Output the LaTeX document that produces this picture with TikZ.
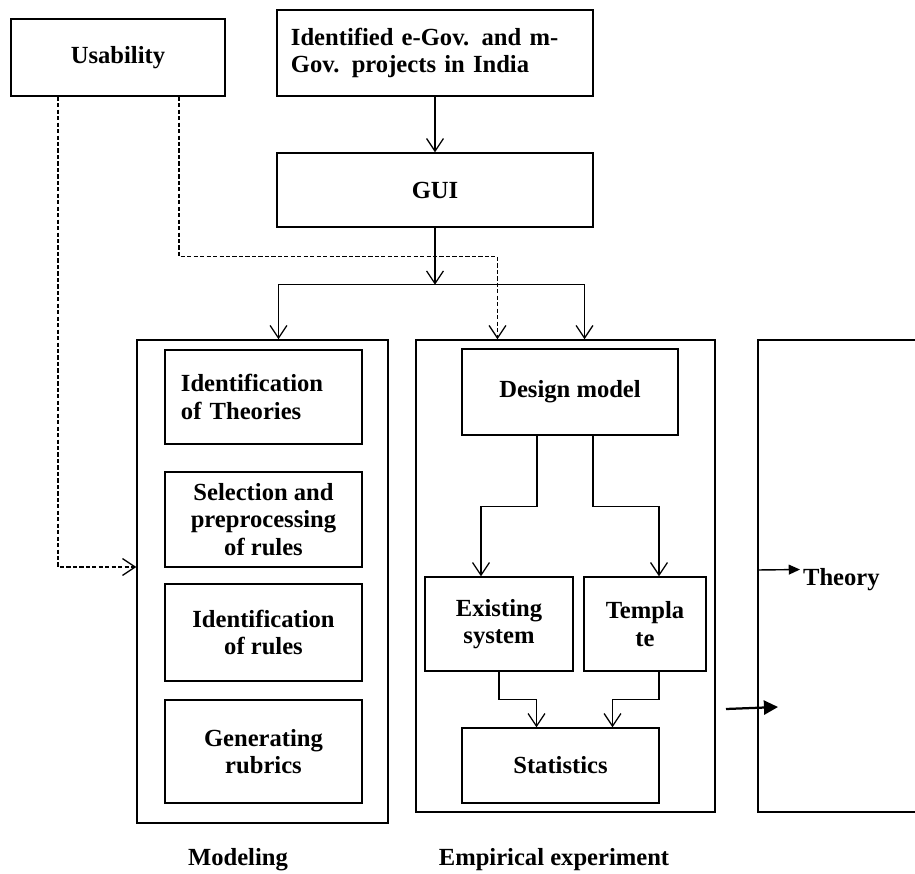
\documentclass[tikz,border=0pt]{standalone}
\usepackage{fontspec}
\setmainfont{Liberation Serif}
\usetikzlibrary{arrows.meta}

\begin{document}
\begin{tikzpicture}[x=0.025cm,y=-0.025cm,
	box/.style={draw,line width=1pt,inner sep=0pt,align=center,
		font=\fontsize{17.5}{19.5}\selectfont\bfseries},
	lbl/.style={font=\fontsize{17.5}{19.5}\selectfont\bfseries},
	flow/.style={line width=0.9pt,-{Straight Barb[length=9pt,width=12pt]}},
	dflow/.style={flow,dash pattern=on 3pt off 1.6pt}]
	\path[use as bounding box,fill=white] (0,0) rectangle (915,874);
	\node[box,minimum width=5.35cm,minimum height=1.925cm] (use) at (118,57.5) {Usability};
	\node[box,minimum width=7.9cm,minimum height=2.15cm,text width=7.2cm,align=left] (egov) at (435,53)
		{Identified e-Gov. and m-\\Gov. projects in India};
	\node[box,minimum width=7.9cm,minimum height=1.85cm] (gui) at (435,190) {GUI};
	\node[box,minimum width=6.275cm,minimum height=12.075cm] (model) at (262.5,581.5) {};
	\node[box,minimum width=7.475cm,minimum height=11.8cm] (emp) at (565.5,576) {};
	\node[box,minimum width=4.3cm,minimum height=11.8cm] (theorybox) at (844,576) {};
	\node[box,minimum width=4.925cm,minimum height=2.35cm,text width=4.125cm,align=left] (idth) at (263.5,397)
		{Identification\\of Theories};
	\node[box,minimum width=4.925cm,minimum height=2.375cm] (sel) at (263.5,519.5)
		{Selection and\\preprocessing\\of rules};
	\node[box,minimum width=4.925cm,minimum height=2.425cm] (idru) at (263.5,632.5)
		{Identification\\of rules};
	\node[box,minimum width=4.925cm,minimum height=2.575cm] (rub) at (263.5,751.5)
		{Generating\\rubrics};
	\node[box,minimum width=5.4cm,minimum height=2.15cm] (design) at (570,392) {Design model};
	\node[box,minimum width=3.7cm,minimum height=2.35cm] (exist) at (499,624) {Existing\\system};
	\node[box,minimum width=3.05cm,minimum height=2.35cm] (templ) at (645,624) {Templa\\te};
	\node[box,minimum width=4.925cm,minimum height=1.875cm] (stats) at (560.5,765.5) {Statistics};
	\node[lbl,anchor=base west,inner sep=2pt] (theory) at (800,585) {Theory};
	\node[lbl] (modlab) at (238,860) {Modeling};
	\node[lbl] (emplab) at (554,860) {Empirical experiment};
	\path (gui.south) ++(0,57) coordinate (split);
	\coordinate (b1) at (726,709);
	\coordinate (b2) at (778,707);
	\draw[flow] (egov) -- (gui);
	\draw[flow] (gui) -- (split);
	\draw[flow] (split) -| ([xshift=0.4cm]model.north);
	\draw[flow] (split) -| ([xshift=0.475cm]emp.north);
	\draw[dflow] ([xshift=-1.5cm]use.south) |- ([yshift=0.3625cm]model.west);
	\draw[dflow] ([xshift=1.525cm]use.south) -- ++(0,160) -| ([xshift=-1.7cm]emp.north);
	\draw[flow] ([xshift=-0.825cm]design.south) -- ++(0,71) -| ([xshift=-0.45cm]exist.north);
	\draw[flow] ([xshift=0.575cm]design.south) -- ++(0,71) -| ([xshift=0.35cm]templ.north);
	\draw[flow] (exist.south) -- ++(0,28) -| ([xshift=-0.6cm]stats.north);
	\draw[flow] ([xshift=0.35cm]templ.south) -- ++(0,28) -| ([xshift=1.3cm]stats.north);
	\draw[line width=1pt,-{Triangle[length=8pt,width=7pt]}]
		([yshift=0.15cm]theorybox.west) -- ([yshift=0.24cm]theory.west);
	\draw[line width=1.6pt,-{Triangle[length=10pt,width=10pt]}] (b1) -- (b2);
\end{tikzpicture}
\end{document}
